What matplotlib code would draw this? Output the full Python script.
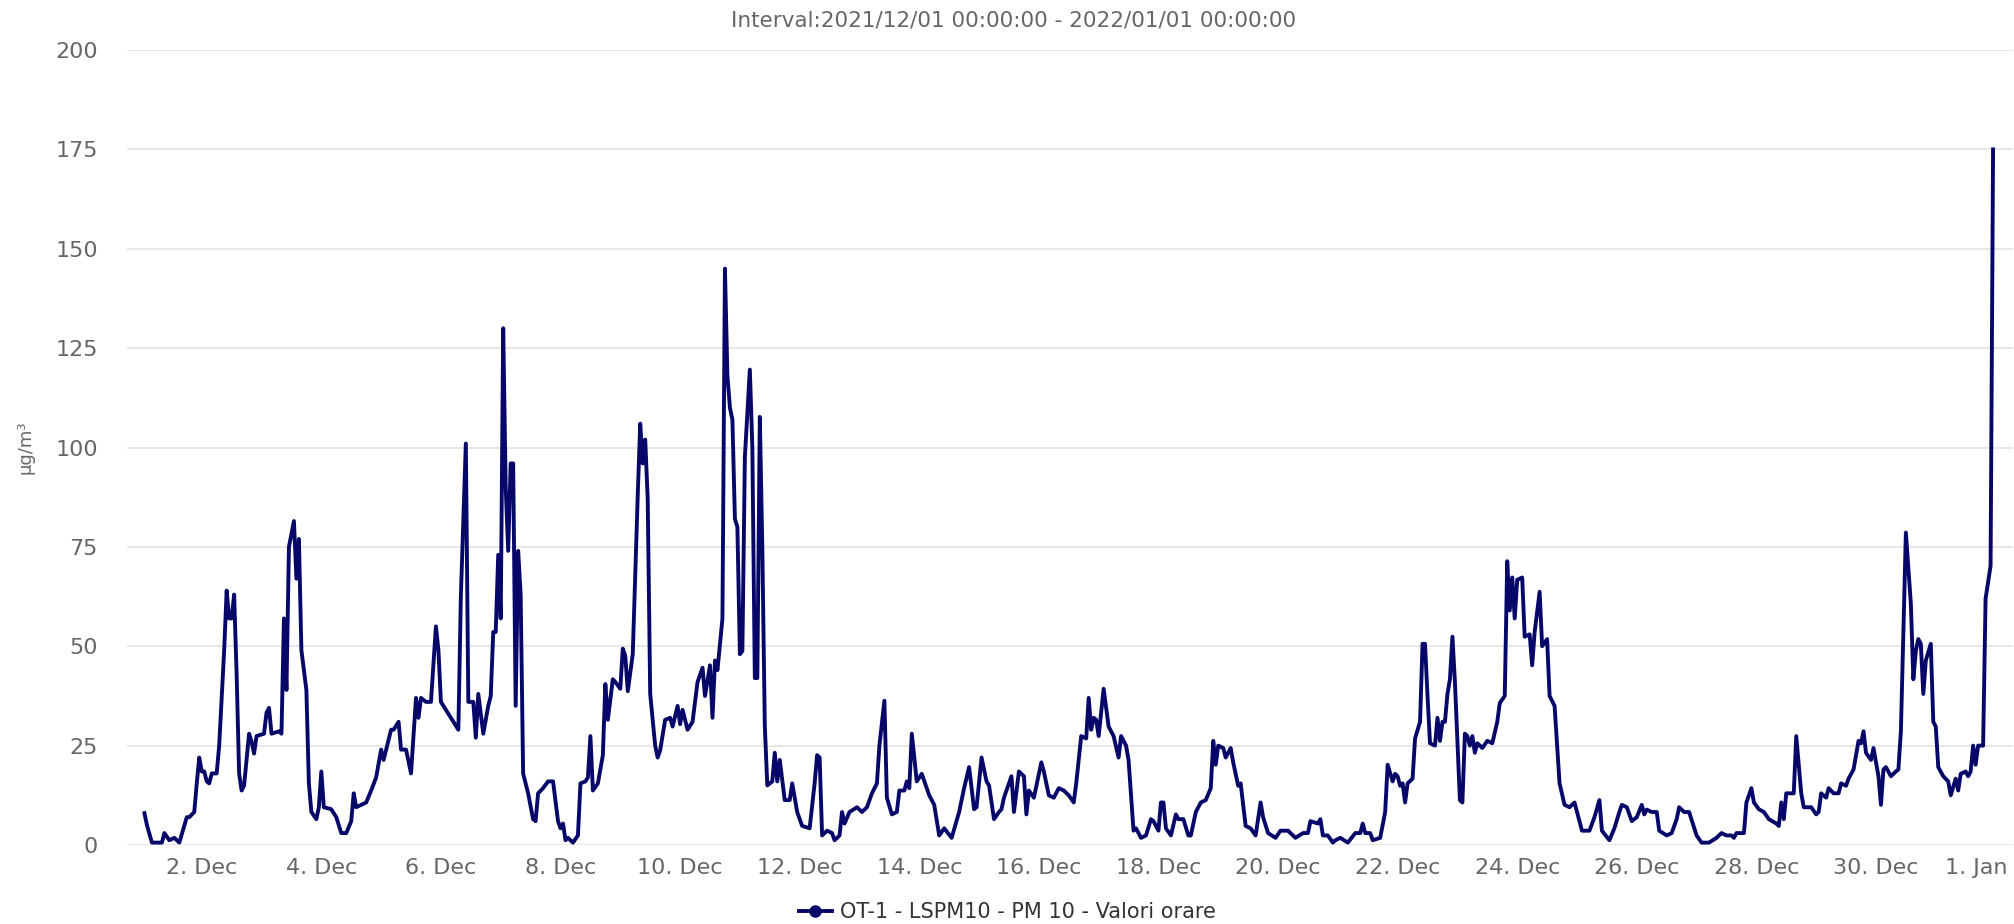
import matplotlib
matplotlib.use("Agg")
import matplotlib.pyplot as plt
import matplotlib.transforms as mtransforms
from matplotlib.lines import Line2D
import pandas as pd

# ---- data (hour offset from 2021-12-01 00:00, PM10 value) ----
hours = [
    1, 2, 4, 8, 9, 11, 13, 15, 18, 19, 21, 22, 23, 24, 25, 26, 27, 28, 30, 31,
    33, 34, 35, 36, 37, 38, 39, 40, 41, 43, 44, 45, 46, 49, 50, 51, 52, 55, 56, 57,
    58, 59, 61, 62, 63, 64, 66, 67, 68, 70, 71, 72, 73, 76, 78, 80, 82, 84, 85, 86,
    90, 92, 94, 96, 97, 100, 101, 103, 104, 106, 108, 110, 111, 112, 114, 116, 118, 119, 120, 123,
    124, 127, 128, 130, 131, 132, 133, 134, 135, 137, 139, 140, 141, 142, 143, 144, 145, 146, 147, 148,
    149, 150, 151, 152, 153, 155, 157, 158, 159, 161, 163, 165, 167, 168, 169, 170, 171, 173, 175, 176,
    178, 179, 180, 181, 183, 185, 186, 187, 189, 190, 192, 193, 194, 195, 197, 199, 200, 201, 202, 203,
    204, 206, 207, 208, 210, 212, 213, 215, 216, 217, 219, 221, 223, 225, 226, 228, 229, 230, 231, 233,
    234, 235, 236, 237, 238, 239, 240, 241, 242, 244, 245, 246, 247, 248, 249, 250, 251, 253, 254, 255,
    256, 258, 260, 261, 263, 265, 268, 270, 271, 272, 273, 275, 277, 278, 280, 281, 282, 284, 287, 289,
    291, 293, 295, 296, 298, 299, 301, 303, 304, 306, 307, 308, 309, 311, 313, 316, 318, 320, 322, 325,
    328, 330, 332, 334, 335, 337, 339, 340, 342, 344, 345, 346, 349, 350, 352, 353, 354, 355, 356, 358,
    361, 362, 364, 366, 368, 370, 372, 374, 375, 377, 379, 380, 381, 382, 383, 384, 386, 388, 390, 392,
    393, 395, 396, 398, 399, 401, 403, 405, 406, 408, 409, 410, 411, 413, 415, 416, 418, 420, 421, 423,
    425, 427, 429, 430, 431, 432, 434, 435, 437, 438, 440, 441, 443, 445, 447, 449, 450, 452, 455, 457,
    460, 463, 466, 468, 469, 472, 473, 474, 476, 478, 479, 481, 484, 487, 489, 490, 491, 493, 494, 497,
    499, 500, 502, 503, 504, 505, 506, 507, 508, 510, 511, 513, 514, 515, 516, 517, 519, 520, 521, 522,
    523, 524, 525, 526, 527, 529, 530, 531, 532, 533, 534, 535, 536, 538, 540, 542, 544, 545, 547, 548,
    549, 550, 551, 552, 554, 555, 557, 558, 559, 561, 562, 564, 565, 567, 569, 571, 573, 575, 578, 581,
    583, 585, 586, 589, 591, 593, 594, 596, 598, 600, 602, 603, 604, 606, 608, 609, 612, 614, 616, 617,
    619, 621, 624, 626, 629, 632, 634, 636, 638, 639, 640, 643, 644, 646, 647, 649, 651, 653, 656, 657,
    658, 659, 660, 663, 664, 666, 667, 670, 672, 673, 674, 676, 677, 679, 681, 682, 684, 685, 687, 689,
    690, 691, 692, 694, 695, 697, 698, 699, 700, 702, 704, 705, 706, 708, 710, 711, 712, 713, 714, 715,
    716, 718, 719, 720, 721, 723, 725, 726, 728, 729, 730, 732, 733, 734, 735, 736, 737, 739, 740, 742,
    743,
]
pm10 = [
    8, 5, 0.6, 0.6, 3, 1.2, 1.8, 0.6, 7, 7, 8.3, 15.5, 22, 18.5, 18.5, 16, 15.5, 18, 18, 25,
    49, 64, 57, 57, 63, 43, 18, 13.7, 15, 28, 26, 23, 27.4, 28, 33.3, 34.5, 28, 28.6, 28, 57,
    39, 75, 81.5, 67, 77, 49, 39, 15.5, 8.3, 6.5, 9.5, 18.5, 9.5, 9, 7, 3, 3, 6, 13, 9.5,
    10.7, 13.7, 17, 24, 21.4, 29, 29, 31, 24, 24, 18, 37, 32, 37, 36, 36, 55, 49, 36, 33,
    32, 29, 62.5, 101, 36, 36, 36, 27, 38, 28, 35, 37.5, 53.6, 53.6, 73, 57, 130, 90, 74, 96,
    96, 35, 74, 63, 18, 13, 6.5, 6, 13, 14.3, 16, 16, 6, 4.2, 5.4, 1.2, 1.8, 0.6, 2.4, 15.5,
    16, 17, 27.4, 13.7, 15.5, 22.6, 40.5, 31.5, 41.7, 41, 39.3, 49.4, 47.6, 38.7, 48, 88, 106, 96, 102, 87,
    38, 25, 22, 23.8, 31.5, 32, 29.8, 35, 30.4, 34, 29, 31, 41, 44.6, 37.5, 45.2, 32, 46.4, 44, 57,
    145, 118, 110, 107, 82, 80, 48, 48.8, 97.6, 119.6, 100, 42, 42, 107.7, 75, 30, 15, 16, 23.2, 16,
    21.4, 11.3, 11.3, 15.5, 8.3, 4.8, 4.2, 15.5, 22.6, 22, 2.4, 3.6, 3, 1.2, 2.4, 8.3, 5.4, 8.3, 9.5, 8.3,
    9.5, 13, 15.5, 25, 36.3, 11.9, 7.7, 8.3, 13.7, 13.7, 16, 14.3, 28, 16, 17.9, 12.5, 10.1, 2.4, 4.2, 1.8,
    8.3, 14.3, 19.6, 9, 9.5, 22, 16, 15, 6.5, 8.3, 9, 11.9, 17.3, 8.3, 18.5, 17.9, 17.3, 7.7, 13.7, 11.9,
    20.8, 18.5, 12.5, 11.9, 14.3, 13.7, 12.5, 10.7, 15.5, 27.4, 26.8, 37, 29, 32, 31.5, 27.4, 39.3, 29.8, 27.4, 22,
    27.4, 25, 21.4, 3.6, 4.2, 1.8, 2.4, 6.5, 6, 3.6, 10.7, 10.7, 4.2, 2.4, 7.7, 6.5, 6.5, 2.4, 2.4, 8.3,
    10.7, 11.3, 14.3, 26.2, 20.2, 25, 24.4, 22, 24.4, 20.8, 14.9, 15.5, 4.8, 4.2, 2.4, 10.7, 7, 3, 1.8, 3.6,
    3.6, 1.8, 3, 3, 6, 5.4, 6.5, 2.4, 2.4, 0.6, 1.2, 1.8, 0.6, 3, 3, 5.4, 3, 3, 1.2, 1.8,
    8.3, 20.2, 16, 17.9, 17.3, 14.9, 15.5, 10.7, 15.5, 16.7, 26.8, 31, 50.6, 50.6, 37.5, 25.6, 25, 32, 26.2, 31,
    31, 38, 41.7, 52.4, 41, 11.3, 10.7, 28, 27.4, 25, 27.4, 23.2, 25.6, 24.4, 26.2, 25.6, 31, 35.7, 37.5, 71.4,
    59, 67.3, 57, 66.7, 67.3, 52.4, 53, 45.2, 53.6, 63.7, 50, 51.8, 37.5, 35, 15.5, 10.1, 9.5, 10.7, 3.6, 3.6,
    7, 11.3, 3.6, 1.2, 4.2, 8.3, 10.1, 9.5, 6, 7, 10.1, 7.7, 8.9, 8.3, 8.3, 3.6, 2.4, 3, 6.5, 9.5,
    8.3, 8.3, 2.4, 0.6, 0.6, 1.8, 3, 2.4, 2.4, 1.8, 3, 3, 10.7, 14.3, 10.7, 9, 8.3, 6.5, 5.4, 4.8,
    10.7, 6.5, 13, 13, 27.4, 13, 9.5, 9.5, 7.7, 8.3, 13, 11.9, 14.3, 13, 13, 15.5, 14.9, 16.7, 19, 26.2,
    25.6, 28.6, 23.2, 21.4, 24.4, 17.3, 10.1, 19, 19.6, 17.3, 18.5, 19, 28.6, 78.6, 60.7, 41.7, 48.8, 51.8, 50.6, 38,
    46.4, 50.6, 31, 29.8, 19.6, 17.3, 16, 12.5, 16.7, 13.7, 17.9, 18.5, 17.3, 18.5, 25, 20.2, 25, 25, 62, 70.2,
    175,
]
series_name = "OT-1 - LSPM10 - PM 10 - Valori orare"
title_text = "Interval:2021/12/01 00:00:00 - 2022/01/01 00:00:00"
y_ticks = [0, 25, 50, 75, 100, 125, 150, 175, 200]
tick_days = ["2021-12-02", "2021-12-04", "2021-12-06", "2021-12-08", "2021-12-10",
             "2021-12-12", "2021-12-14", "2021-12-16", "2021-12-18", "2021-12-20",
             "2021-12-22", "2021-12-24", "2021-12-26", "2021-12-28", "2021-12-30",
             "2022-01-01"]
tick_labels = ["2. Dec", "4. Dec", "6. Dec", "8. Dec", "10. Dec", "12. Dec", "14. Dec",
               "16. Dec", "18. Dec", "20. Dec", "22. Dec", "24. Dec", "26. Dec",
               "28. Dec", "30. Dec", "1. Jan"]

start = pd.Timestamp("2021-12-01 00:00")
times = start + pd.to_timedelta(hours, unit="h")

W, H = 2015, 924
fig = plt.figure(figsize=(W / 100, H / 100), dpi=100)
plt.rcParams["font.family"] = ["DejaVu Sans"]

left, right, top, bottom = 127, 2013, 50, 845
ax = fig.add_axes([left / W, 1 - bottom / H, (right - left) / W, (bottom - top) / H])

line_color = "#07076a"
ax.plot(times, pm10, color=line_color, lw=2.8, solid_joinstyle="round")

ax.set_ylim(0, 200)
ax.set_yticks(y_ticks)
ax.set_xlim(start - pd.Timedelta(hours=6), start + pd.Timedelta(hours=751))
ax.set_xticks(pd.to_datetime(tick_days))
ax.set_xticklabels(tick_labels)

ax.grid(axis="y", color="#e3e3e3", lw=1.2)
ax.grid(axis="x", visible=False)
ax.set_axisbelow(True)
for s in ax.spines.values():
    s.set_visible(False)
ax.tick_params(axis="both", length=0, colors="#666666", labelsize=16)
ax.tick_params(axis="y", pad=21)
ax.tick_params(axis="x", pad=9)

# shift last x label left, as in the reference
lab = ax.get_xticklabels()[-1]
lab.set_transform(lab.get_transform() + mtransforms.ScaledTranslation(-19 / 100, 0, fig.dpi_scale_trans))

fig.text(0.503, 1 - 20 / H, title_text, ha="center", va="center", color="#666666", fontsize=15.5)
fig.text(25 / W, 1 - 447 / H, "µg/m³", rotation=90, ha="center", va="center",
         color="#666666", fontsize=13)

handle = Line2D([0], [0], color=line_color, lw=2.8, marker="o", markersize=8)
fig.legend([handle], [series_name], loc="center", bbox_to_anchor=(0.5, 12 / H),
           bbox_transform=fig.transFigure, frameon=False, fontsize=15,
           labelcolor="#333333", handlelength=1.6, handletextpad=0.4)

fig.savefig("out.png", dpi=100, facecolor="white")
